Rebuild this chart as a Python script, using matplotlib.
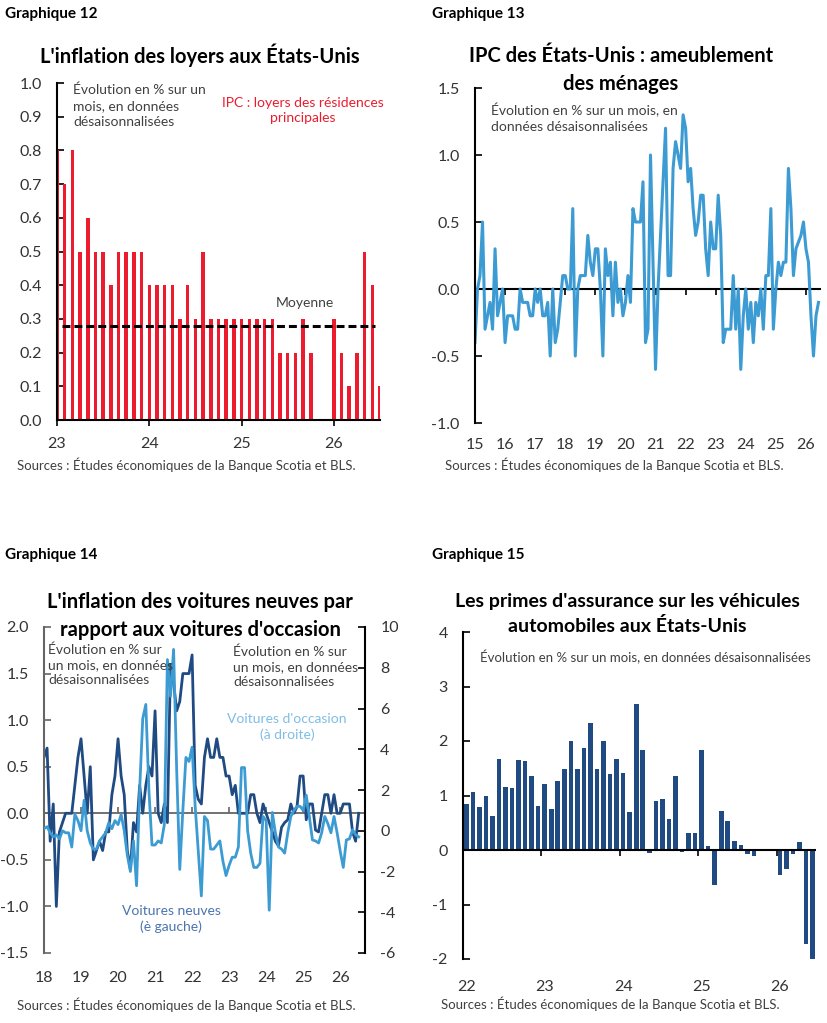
import numpy as np
import matplotlib.pyplot as plt
from matplotlib.ticker import FormatStrFormatter

plt.rcParams['font.family'] = ['Lato', 'DejaVu Sans']
plt.rcParams['axes.unicode_minus'] = False

# ---------------- data ----------------
# Graphique 12 : IPC loyers, m/m %, monthly from Jan 2023
rent_start = 23
rent_values = [0.8, 0.7, 0.8, 0.5, 0.6, 0.5, 0.5, 0.4, 0.5, 0.5, 0.5, 0.5,
               0.4, 0.4, 0.4, 0.4, 0.3, 0.4, 0.3, 0.5, 0.3, 0.3, 0.3, 0.3,
               0.3, 0.3, 0.3, 0.3, 0.3, 0.2, 0.2, 0.2, 0.3, 0.2, np.nan, np.nan,
               0.3, 0.2, 0.1, 0.2, 0.5, 0.4, 0.1]
rent_mean = 0.28
rent_years = [23, 24, 25, 26]

# Graphique 13 : IPC ameublement, m/m %, monthly from Jan 2015
furn_start = 15
furn_values = [-0.4, 0.0, 0.1, 0.5, -0.3, -0.2, -0.1, -0.3, 0.3, -0.2, -0.1, 0.0,
               -0.4, -0.2, -0.2, -0.2, -0.3, -0.3, 0.0, -0.1, -0.1, -0.1, -0.2, -0.2,
               0.0, -0.1, 0.0, -0.2, -0.2, -0.1, -0.5, 0.0, -0.4, -0.3, -0.1, 0.1,
               0.1, 0.0, 0.0, 0.6, -0.5, 0.0, 0.1, 0.1, 0.1, 0.4, 0.2, 0.1,
               0.3, 0.3, 0.0, -0.5, 0.3, 0.1, 0.2, -0.2, 0.2, -0.1, 0.0, -0.2,
               -0.1, 0.1, -0.1, 0.6, 0.5, 0.5, 0.5, 0.8, -0.4, -0.3, 1.0, 0.2,
               -0.6, 0.0, 0.4, 0.8, 1.2, 0.1, 0.1, 0.9, 1.1, 1.0, 0.9, 1.3,
               1.2, 0.8, 0.9, 0.6, 0.4, 0.5, 0.7, 0.7, 0.3, 0.1, 0.5, 0.3,
               0.3, 0.7, 0.4, -0.4, -0.3, -0.3, -0.3, 0.1, -0.3, 0.0, -0.6, -0.2,
               0.0, -0.3, -0.1, -0.4, -0.1, -0.2, 0.0, -0.3, 0.1, 0.1, 0.6, -0.3,
               0.0, 0.2, 0.1, 0.2, 0.2, 0.9, 0.6, 0.1, 0.3, 0.35, 0.4, 0.5,
               0.3, 0.2, -0.2, -0.5, -0.2, -0.1]
furn_years = list(range(15, 27))

# Graphique 14 : voitures neuves (gauche) et d'occasion (droite), monthly from Jan 2018
cars_start = 18
new_car_values = [0.6, 0.7, -0.3, 0.1, -1.0, -0.2, -0.1, 0.0, 0.0, 0.0, 0.3, 0.6,
                  0.8, 0.4, 0.0, 0.5, -0.5, -0.4, -0.3, -0.4, -0.2, -0.2, 0.2, 0.4,
                  0.8, 0.4, 0.2, -0.4, -0.6, -0.1, -0.2, 0.3, 0.0, 0.3, 0.5, 0.4,
                  1.1, 0.0, -0.1, 0.1, -0.1, 1.6, 1.4, 1.1, 1.2, 1.5, 1.5, 1.5,
                  1.7, 0.3, 0.15, 0.1, 0.6, 0.8, 0.6, 0.6, 0.8, 0.6, 0.6, 0.4,
                  0.4, 0.2, 0.3, 0.0, 0.0, 0.0, 0.0, 0.2, 0.2, 0.0, -0.1, 0.1,
                  0.0, -0.1, -0.2, -0.3, -0.35, -0.15, -0.1, -0.07, 0.1, 0.0, 0.07, 0.4,
                  0.4, -0.07, 0.1, 0.1, -0.18, -0.2, 0.0, 0.2, 0.2, 0.0, 0.2, 0.0,
                  0.0, 0.1, 0.1, 0.1, -0.2, -0.3, 0.0]
used_car_values = [0.1, 0.2, -0.1, -0.3, -0.2, -0.4, 0.0, -0.1, -0.1, -0.8, 0.8, 0.5,
                   0.0, 1.5, 0.0, -0.6, -0.9, -0.9, -0.5, -0.3, -0.1, 0.4, 0.1, 0.5,
                   0.3, 0.8, 0.0, -1.2, -2.0, -0.5, -2.7, 2.0, 5.5, 6.2, 2.0, -0.7,
                   -0.7, -0.5, -0.6, 0.3, 8.4, 6.6, 8.9, 3.0, -1.9, 1.0, 3.6, 3.4,
                   4.1, 1.2, -1.0, -3.2, 0.7, 0.5, -0.9, -0.9, -0.7, -0.5, -1.5, -2.2,
                   -1.7, -1.3, -1.3, -0.8, 3.1, 3.1, 0.0, -1.1, -1.8, -1.8, -1.6, 0.7,
                   0.5, -3.9, 0.9, -0.1, -0.8, -0.9, -1.1, -0.1, 0.7, 1.0, 1.2, 1.2,
                   1.0, 1.75, 0.7, -0.45, -0.5, -0.6, -0.1, 0.7, 0.35, -0.1, 0.7, -0.1,
                   -1.0, -1.8, -0.45, -0.4, 0.05, -0.2, -0.3]
cars_years = list(range(18, 27))

# Graphique 15 : primes d'assurance auto, m/m %, monthly from Jan 2022
ins_start = 22
ins_values = [0.85, 1.07, 0.78, 1.0, 0.63, 1.67, 1.15, 1.14, 1.65, 1.63, 1.35, 0.8,
              1.21, 0.76, 1.27, 1.48, 2.0, 1.48, 1.87, 2.33, 1.48, 2.0, 1.4, 1.67,
              1.42, 0.7, 2.67, 1.84, -0.05, 0.9, 0.94, 0.57, 1.35, -0.04, 0.31, 0.32,
              1.84, 0.07, -0.65, 0.72, 0.54, 0.16, 0.09, -0.08, -0.11, np.nan, np.nan, np.nan,
              -0.45, -0.34, -0.07, 0.15, -1.72, -2.02]
ins_years = [22, 23, 24, 25, 26]

# ---------------- style ----------------
W, H = 828, 1023
RED = '#ec1c2e'
LIGHT = '#3d9bd3'
NAVY = '#1f4a82'
TXT = '#404040'
SOURCE = "Sources : Études économiques de la Banque Scotia et BLS."


def box(l, t, r, b):
    return [l / W, 1 - b / H, (r - l) / W, (b - t) / H]


def px(x, y):
    return x / W, 1 - y / H


def monthly(start, n, offset=0.0):
    return start + (np.arange(n) + offset) / 12


def base_style(ax, left_color='black'):
    for s in ['top', 'right']:
        ax.spines[s].set_visible(False)
    ax.spines['left'].set_color(left_color)
    ax.spines['left'].set_linewidth(1.5)
    ax.tick_params(axis='y', direction='in', length=5, width=1.2, pad=11,
                   labelsize=11.5, labelcolor='#333333', color=left_color)
    ax.tick_params(axis='x', labelsize=11.5, labelcolor='#333333')


def zero_ticks(ax, years, direction='out', color='black'):
    ymin, ymax = ax.get_ylim()
    sec = ax.secondary_xaxis((0 - ymin) / (ymax - ymin))
    sec.set_xticks(years)
    sec.set_xticklabels([])
    sec.spines['bottom'].set_visible(False)
    sec.tick_params(direction=direction, length=4, width=1.2, color=color)
    return sec


fig = plt.figure(figsize=(W / 100, H / 100), dpi=100)

# ---------------- Graphique 12 ----------------
ax1 = fig.add_axes(box(57, 83, 380, 420))
x1 = monthly(rent_start, len(rent_values))
ax1.bar(x1, rent_values, width=0.038, color=RED, zorder=2)
ax1.axhline(rent_mean, xmin=0.015, xmax=0.985, color='black', lw=2.2,
            ls=(0, (2.6, 1.3)), zorder=3)
ax1.set_xlim(23, 26.5)
ax1.set_ylim(0, 1.0)
ax1.set_yticks(np.round(np.arange(0, 1.01, 0.1), 1))
ax1.yaxis.set_major_formatter(FormatStrFormatter('%.1f'))
ax1.set_xticks(rent_years)
ax1.set_xticklabels([str(y) for y in rent_years])
base_style(ax1)
ax1.spines['bottom'].set_linewidth(1.5)
ax1.tick_params(axis='x', direction='out', length=4, width=1.2, pad=8)

fig.text(*px(73, 84), "Évolution en % sur un\nmois, en données\ndésaisonnalisées",
         fontsize=10, color=TXT, va='top', ha='left', linespacing=1.35)
fig.text(*px(303, 97), "IPC : loyers des résidences\nprincipales",
         fontsize=10, color=RED, va='top', ha='center', linespacing=1.35)
fig.text(*px(305, 303), "Moyenne", fontsize=10, color=TXT, va='center', ha='center')
fig.text(*px(200, 55), "L'inflation des loyers aux États-Unis", fontsize=14.5,
         fontweight='bold', ha='center', va='center')
fig.text(*px(5, 14), "Graphique 12", fontsize=11, fontweight='bold', va='center')
fig.text(*px(17, 465), SOURCE, fontsize=9.5, color=TXT, va='center')

# ---------------- Graphique 13 ----------------
ax2 = fig.add_axes(box(475, 88, 821, 423))
x2 = monthly(furn_start, len(furn_values))
ax2.axhline(0, color='black', lw=1.5, zorder=1)
ax2.plot(x2, furn_values, color=LIGHT, lw=2.2, zorder=2)
ax2.set_xlim(15, 26.5)
ax2.set_ylim(-1.0, 1.5)
ax2.set_yticks([-1.0, -0.5, 0.0, 0.5, 1.0, 1.5])
ax2.yaxis.set_major_formatter(FormatStrFormatter('%.1f'))
ax2.set_xticks(furn_years)
ax2.set_xticklabels([str(y) for y in furn_years])
base_style(ax2)
ax2.spines['bottom'].set_visible(False)
ax2.tick_params(axis='x', length=0, pad=11)
zero_ticks(ax2, furn_years)

fig.text(*px(491, 103), "Évolution en % sur un mois, en\ndonnées désaisonnalisées",
         fontsize=10, color=TXT, va='top', ha='left', linespacing=1.35)
fig.text(*px(621, 70), "IPC des États-Unis : ameublement\ndes ménages", fontsize=14.5,
         fontweight='bold', ha='center', va='center', linespacing=1.55)
fig.text(*px(432, 14), "Graphique 13", fontsize=11, fontweight='bold', va='center')
fig.text(*px(445, 465), SOURCE, fontsize=9.5, color=TXT, va='center')

# ---------------- Graphique 14 ----------------
ax3 = fig.add_axes(box(44, 627, 365, 953))
x3 = monthly(cars_start, len(new_car_values))
ax3.axhline(0, color='#666666', lw=1.3, zorder=1)
ax3.plot(x3, new_car_values, color=NAVY, lw=2.0, zorder=2)
ax3.set_xlim(18, 26.67)
ax3.set_ylim(-1.5, 2.0)
ax3.set_yticks(np.arange(-1.5, 2.01, 0.5))
ax3.yaxis.set_major_formatter(FormatStrFormatter('%.1f'))
ax3.set_xticks(cars_years)
ax3.set_xticklabels([str(y) for y in cars_years])
base_style(ax3, left_color='#666666')
ax3.spines['bottom'].set_visible(False)
ax3.tick_params(axis='x', length=0, pad=13)
zero_ticks(ax3, cars_years, direction='in', color='#666666')

ax3r = ax3.twinx()
ax3r.plot(x3, used_car_values, color=LIGHT, lw=2.0, zorder=2)
ax3r.set_ylim(-6, 10)
ax3r.set_yticks(range(-6, 11, 2))
for s in ['top', 'left', 'bottom']:
    ax3r.spines[s].set_visible(False)
ax3r.spines['right'].set_linewidth(1.5)
ax3r.tick_params(axis='y', direction='in', length=5, width=1.2, pad=11,
                 labelsize=11.5, labelcolor='#333333')

fig.text(*px(48, 643), "Évolution en % sur\nun mois, en données\ndésaisonnalisées",
         fontsize=10, color=TXT, va='top', ha='left', linespacing=1.35)
fig.text(*px(233, 645), "Évolution en % sur\nun mois, en données\ndésaisonnalisées",
         fontsize=10, color=TXT, va='top', ha='left', linespacing=1.35)
fig.text(*px(287, 713), "Voitures d'occasion\n(à droite)", fontsize=10, color='#7fbde6',
         va='top', ha='center', linespacing=1.35)
fig.text(*px(171, 905), "Voitures neuves\n(è gauche)", fontsize=10, color='#4a74b0',
         va='top', ha='center', linespacing=1.35)
fig.text(*px(200, 616), "L'inflation des voitures neuves par\nrapport aux voitures d'occasion",
         fontsize=14.5, fontweight='bold', ha='center', va='center', linespacing=1.55)
fig.text(*px(5, 555), "Graphique 14", fontsize=11, fontweight='bold', va='center')
fig.text(*px(17, 1005), SOURCE, fontsize=9.5, color=TXT, va='center')

# ---------------- Graphique 15 ----------------
ax4 = fig.add_axes(box(463, 632, 816, 959))
x4 = monthly(ins_start, len(ins_values), offset=0.5)
ax4.bar(x4, ins_values, width=0.7 / 12, color=NAVY, zorder=2)
ax4.axhline(0, color='black', lw=1.5, zorder=3)
ax4.set_xlim(22, 26.5)
ax4.set_ylim(-2, 4)
ax4.set_yticks(range(-2, 5))
ax4.set_xticks(monthly(ins_start, len(ins_years) * 12, offset=0.5)[::12])
ax4.set_xticklabels([str(y) for y in ins_years])
base_style(ax4)
ax4.spines['bottom'].set_visible(False)
ax4.tick_params(axis='x', length=0, pad=15)
zero_ticks(ax4, ins_years)

fig.text(*px(480, 657), "Évolution en % sur un mois, en données désaisonnalisées",
         fontsize=9.5, color=TXT, va='center', ha='left')
fig.text(*px(627, 614), "Les primes d'assurance sur les véhicules\nautomobiles aux États-Unis",
         fontsize=14, fontweight='bold', ha='center', va='center', linespacing=1.45)
fig.text(*px(432, 555), "Graphique 15", fontsize=11, fontweight='bold', va='center')
fig.text(*px(441, 1004), SOURCE, fontsize=9.5, color=TXT, va='center')

fig.savefig('out.png', dpi=100, facecolor='white')
